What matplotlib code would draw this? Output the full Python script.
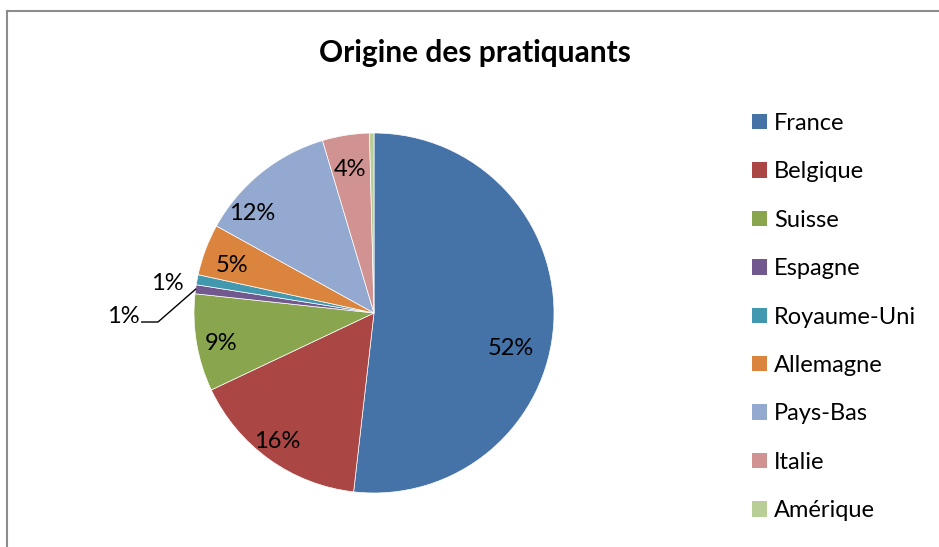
import numpy as np
import matplotlib
matplotlib.use("Agg")
import matplotlib.pyplot as plt
from matplotlib.patches import Patch
from matplotlib.lines import Line2D

plt.rcParams['font.family'] = ['Lato', 'DejaVu Sans']

# data (percent shares)
pays = ['France', 'Belgique', 'Suisse', 'Espagne', 'Royaume-Uni',
        'Allemagne', 'Pays-Bas', 'Italie', 'Amérique']
parts = [51.6, 16.1, 8.7, 0.8, 0.9, 4.6, 12.3, 4.2, 0.4]
couleurs = ['#4572A7', '#AA4643', '#89A54E', '#71588F', '#4198AF',
            '#DB843D', '#93A9CF', '#D19392', '#B9CD96']

fig = plt.figure(figsize=(9.39, 5.47), dpi=100)

# grey chart border (left and top visible)
fig.add_artist(Line2D([7 / 939, 7 / 939], [0, 1 - 11 / 547], color='#8c8c8c', lw=1.5,
                      transform=fig.transFigure))
fig.add_artist(Line2D([7 / 939, 1], [1 - 11 / 547, 1 - 11 / 547], color='#8c8c8c', lw=1.5,
                      transform=fig.transFigure))

ax = fig.add_axes([(374 - 180) / 939, 1 - (313 + 180) / 547, 360 / 939, 360 / 547])
wedges, _ = ax.pie(parts, colors=couleurs, startangle=90, counterclock=False,
                   radius=1, wedgeprops=dict(edgecolor='white', linewidth=0.5))
ax.set_xlim(-1, 1)
ax.set_ylim(-1, 1)
ax.set_aspect('equal')
ax.axis('off')

# label nudges (radius units) where Excel didn't sit on the mid-angle
decalage = {'France': (-0.08, -0.12), 'Pays-Bas': (-0.15, -0.07),
            'Belgique': (-0.05, 0.0), 'Suisse': (-0.02, 0.0)}

total = sum(parts)
fs = 17
for i, (w, v) in enumerate(zip(wedges, parts)):
    pct = v / total * 100
    if pct < 0.5:
        continue
    lab = f"{pct:.0f}%"
    mid = np.deg2rad((w.theta1 + w.theta2) / 2)
    ux, uy = np.cos(mid), np.sin(mid)
    if pays[i] == 'Royaume-Uni':
        ax.text(ux * 1.17, uy * 1.17 - 0.055, lab, ha='center', va='center',
                fontsize=fs, clip_on=False)
    elif pays[i] == 'Espagne':
        ax.plot([-1.29, -1.2, ux], [-0.05, -0.05, uy], color='black', lw=1,
                clip_on=False)
        ax.text(-1.39, -0.02, lab, ha='center', va='center', fontsize=fs,
                clip_on=False)
    else:
        d = 0.84
        ox, oy = decalage.get(pays[i], (0, 0))
        ax.text(ux * d + ox, uy * d + oy - 0.03, lab, ha='center', va='center',
                fontsize=fs)

fig.text(475 / 939, 1 - 53 / 547, 'Origine des pratiquants', ha='center',
         va='center', fontsize=21.5, fontweight='bold')

handles = [Patch(facecolor=c, edgecolor='none') for c in couleurs]
fig.legend(handles, pays, loc='upper left', bbox_to_anchor=(752 / 939, 1 - 113 / 547),
           frameon=False, fontsize=fs, handlelength=0.63, handleheight=0.63,
           handletextpad=0.3, labelspacing=1.16, borderaxespad=0, borderpad=0)

fig.savefig('out.png', dpi=100)
